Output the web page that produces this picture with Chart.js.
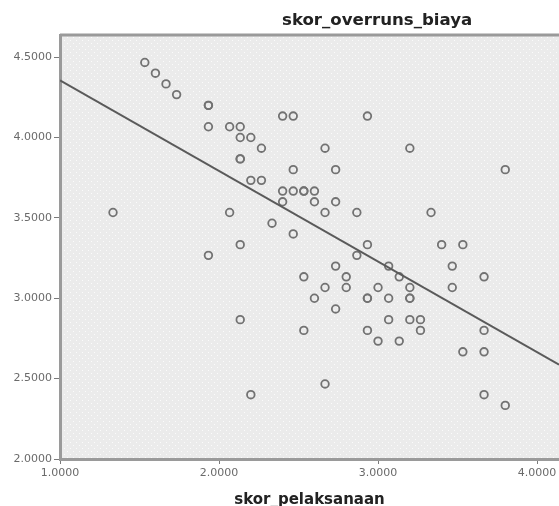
<!DOCTYPE html>
<html>
<head>
<meta charset="utf-8">
<script src="https://cdn.jsdelivr.net/npm/chart.js@4/dist/chart.umd.min.js"></script>
<style>
    html, body { margin: 0; padding: 0; background: #ffffff; }
    #wrap { width: 559px; height: 506px; overflow: hidden; }
</style>
</head>
<body>
<div id="wrap"><canvas id="graph-canvas" width="559" height="506"></canvas></div>
<script>
'use strict';

// Chart texts
const chartTitle = "skor_overruns_biaya";
const xAxisTitle = "skor_pelaksanaan";

// Scatter values (skor_pelaksanaan, skor_overruns_biaya)
const pointsX = [
    1.5333, 1.6000, 1.6667, 1.7333, 1.9333, 1.9333, 1.9333, 2.0667, 2.1333, 2.1333,
    2.2000, 2.2667, 2.1333, 2.1333, 2.2000, 2.2667, 1.3333, 2.0667, 2.3333, 2.1333,
    1.9333, 2.1333, 2.2000, 2.4000, 2.4667, 2.9333, 2.6667, 3.2000, 2.4667, 2.7333,
    3.8000, 2.4000, 2.4667, 2.5333, 2.5333, 2.6000, 2.4000, 2.6000, 2.7333, 2.6667,
    2.8667, 3.3333, 2.4667, 2.9333, 3.4000, 3.5333, 2.8667, 2.7333, 3.0667, 3.4667,
    2.5333, 2.8000, 3.1333, 3.6667, 2.6667, 2.8000, 3.0000, 3.2000, 3.4667, 2.6000,
    2.9333, 2.9333, 3.0667, 3.2000, 3.2000, 2.7333, 3.0667, 3.2000, 3.2667, 2.5333,
    2.9333, 3.2667, 3.6667, 3.0000, 3.1333, 3.5333, 3.6667, 2.6667, 3.6667, 3.8000
];
const pointsY = [
    4.4667, 4.4000, 4.3333, 4.2667, 4.2000, 4.2000, 4.0667, 4.0667, 4.0667, 4.0000,
    4.0000, 3.9333, 3.8667, 3.8667, 3.7333, 3.7333, 3.5333, 3.5333, 3.4667, 3.3333,
    3.2667, 2.8667, 2.4000, 4.1333, 4.1333, 4.1333, 3.9333, 3.9333, 3.8000, 3.8000,
    3.8000, 3.6667, 3.6667, 3.6667, 3.6667, 3.6667, 3.6000, 3.6000, 3.6000, 3.5333,
    3.5333, 3.5333, 3.4000, 3.3333, 3.3333, 3.3333, 3.2667, 3.2000, 3.2000, 3.2000,
    3.1333, 3.1333, 3.1333, 3.1333, 3.0667, 3.0667, 3.0667, 3.0667, 3.0667, 3.0000,
    3.0000, 3.0000, 3.0000, 3.0000, 3.0000, 2.9333, 2.8667, 2.8667, 2.8667, 2.8000,
    2.8000, 2.8000, 2.8000, 2.7333, 2.7333, 2.6667, 2.6667, 2.4667, 2.4000, 2.3333
];

// Fit line end points
const fitX = [1.0, 4.138];
const fitY = [4.356, 2.587];

// Axis ranges and tick steps
const xRange = [1.0, 4.138];
const yRange = [2.0, 4.6375];
const xStep = 1;
const yStep = 0.5;

// Dotted background pattern for the plot area
function makePattern() {
    let tile = document.createElement("canvas");
    tile.width = 6;
    tile.height = 6;
    let t = tile.getContext('2d');
    t.fillStyle = "#ebebeb";
    t.fillRect(0, 0, 6, 6);
    t.fillStyle = "#fbfbfb";
    t.fillRect(1, 1, 1, 1);
    t.fillRect(4, 4, 1, 1);
    return t.createPattern(tile, "repeat");
}

// Plot frame: background, top border and title
const framePlugin = {
    id: 'frame',
    beforeDraw(chart) {
        const ctx = chart.ctx;
        const area = chart.chartArea;
        ctx.save();
        ctx.fillStyle = "#ffffff";
        ctx.fillRect(0, 0, chart.width, chart.height);
        ctx.fillStyle = makePattern();
        ctx.fillRect(area.left, area.top, area.right - area.left, area.bottom - area.top);
        ctx.restore();
    },
    afterDraw(chart) {
        const ctx = chart.ctx;
        const area = chart.chartArea;
        ctx.save();
        ctx.strokeStyle = "#9a9a9a";
        ctx.lineWidth = 3;
        ctx.beginPath();
        ctx.moveTo(area.left, area.top);
        ctx.lineTo(area.right, area.top);
        ctx.stroke();

        ctx.fillStyle = "#222222";
        ctx.font = "bold 16.6px 'DejaVu Sans'";
        ctx.textAlign = "left";
        ctx.textBaseline = "middle";
        ctx.fillText(chartTitle, 282, 21);
        ctx.restore();
    }
};

// Build graph
let ctx = document.getElementById("graph-canvas").getContext('2d');

const data = {
    datasets: [{
        type: 'line',
        label: 'fit',
        data: fitX.map((x, i) => ({ x: x, y: fitY[i] })),
        borderColor: "#5a5a5a",
        borderWidth: 2,
        pointRadius: 0,
        fill: false
    }, {
        type: 'scatter',
        label: chartTitle,
        data: pointsX.map((x, i) => ({ x: x, y: pointsY[i] })),
        pointStyle: 'circle',
        pointRadius: 3.8,
        pointBorderWidth: 1.8,
        pointBorderColor: "#727272",
        pointBackgroundColor: "rgba(0,0,0,0)"
    }]
};

let chart = new Chart(ctx, {
    data: data,
    plugins: [framePlugin],
    options: {
        responsive: false,
        animation: false,
        layout: {
            autoPadding: false,
            padding: { top: 35, right: 0, left: 0, bottom: 0 }
        },
        plugins: {
            legend: { display: false },
            tooltip: { enabled: false },
            title: { display: false }
        },
        scales: {
            x: {
                type: 'linear',
                position: 'bottom',
                min: xRange[0],
                max: xRange[1],
                afterFit: (scale) => {
                    scale.height = 47;
                    scale.paddingLeft = 0;
                    scale.paddingRight = 0;
                },
                border: { color: "#9a9a9a", width: 3 },
                grid: {
                    drawOnChartArea: false,
                    drawTicks: true,
                    tickLength: 5,
                    tickColor: "#7a7a7a"
                },
                ticks: {
                    stepSize: xStep,
                    includeBounds: false,
                    maxRotation: 0,
                    padding: 3,
                    color: "#6a6a6a",
                    font: { family: "DejaVu Sans", size: 11 },
                    callback: (v) => Number(v).toFixed(4)
                },
                title: {
                    display: true,
                    text: xAxisTitle,
                    color: "#222222",
                    font: { family: "DejaVu Sans", size: 15, weight: 'bold', lineHeight: 0.8 },
                    padding: 0
                }
            },
            y: {
                type: 'linear',
                min: yRange[0],
                max: yRange[1],
                afterFit: (scale) => {
                    scale.width = 60;
                    scale.paddingTop = 0;
                    scale.paddingBottom = 0;
                },
                border: { color: "#9a9a9a", width: 3 },
                grid: {
                    drawOnChartArea: false,
                    drawTicks: true,
                    tickLength: 6,
                    tickColor: "#7a7a7a"
                },
                ticks: {
                    stepSize: yStep,
                    includeBounds: false,
                    padding: 2,
                    color: "#6a6a6a",
                    font: { family: "DejaVu Sans", size: 11 },
                    callback: (v) => Number(v).toFixed(4)
                }
            }
        }
    }
});
</script>
</body>
</html>
